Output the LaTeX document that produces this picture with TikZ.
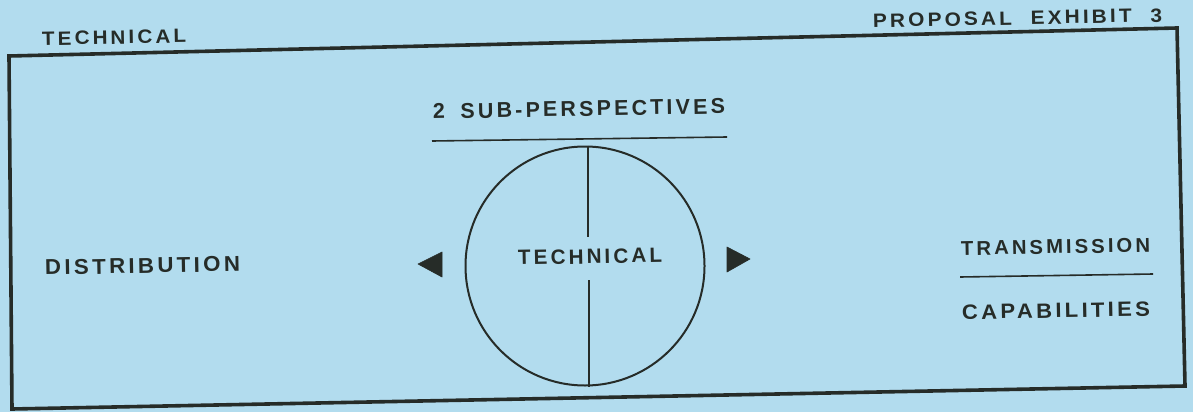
\documentclass[tikz,border=0pt]{standalone}
\usepackage{fontspec}
\setmainfont{Liberation Sans}[LetterSpace=15]
\definecolor{paper}{RGB}{178,220,238}
\definecolor{ink}{RGB}{38,44,40}
\newcommand{\fitlbl}[3]{\resizebox{#1pt}{#2pt}{\fontsize{20}{22}\selectfont\bfseries #3}}
\begin{document}
\begin{tikzpicture}[x=1pt,y=-1pt,
  lbl/.style={anchor=base west,inner sep=0pt,text=ink,rotate=1.1},
  frame/.style={draw=ink,line width=3.6pt,line join=miter},
  rule/.style={draw=ink,line width=1.6pt},
  tri/.style={fill=ink,draw=ink,line width=0.6pt,line join=round}]
\fill[paper] (0,0) rectangle (1193,412);
\useasboundingbox (0,0) rectangle (1193,412);
% frame
\coordinate (f1) at (9,56);
\coordinate (f2) at (1177,28);
\coordinate (f3) at (1185,386);
\coordinate (f4) at (12,409);
\draw[frame] (f1) -- (f2) -- (f3) -- (f4) -- cycle;
% headings
\node[lbl] (tl) at (42,45.5) {\fitlbl{144}{13.5}{TECHNICAL}};
\node[lbl] (pe) at (873,27.5) {\fitlbl{289}{13.5}{PROPOSAL\hspace{0.9em}EXHIBIT\hspace{0.9em}3}};
\node[lbl] (sub) at (433,119) {\fitlbl{292}{15}{2\hspace{0.3em} SUB-PERSPECTIVES}};
\coordinate (u1) at (432,141);
\coordinate (u2) at (727,137);
\draw[rule] (u1) -- (u2);
% circle
\node[draw=ink,line width=2pt,circle,minimum size=239pt,inner sep=0pt] (circ) at (585,266) {};
\node[lbl] (tc) at (518,265) {\fitlbl{144}{14.5}{TECHNICAL}};
\coordinate (v1) at (588,237);
\coordinate (v2) at (589,280);
\draw[rule] (circ.north -| v1) -- (v1);
\draw[rule] (v2) -- (circ.south -| v2);
% triangles
\coordinate (lt) at (418,264);
\coordinate (rt) at (750,259);
\draw[tri] (lt) -- (442,252) -- (442,277) -- cycle;
\draw[tri] (rt) -- (727,247) -- (727,272) -- cycle;
% side labels
\node[lbl] (dist) at (45,275) {\fitlbl{195}{15}{DISTRIBUTION}};
\node[lbl] (trans) at (961,255.5) {\fitlbl{189}{14}{TRANSMISSION}};
\coordinate (t1) at (960,277);
\coordinate (t2) at (1153,274);
\draw[rule] (t1) -- (t2);
\node[lbl] (cap) at (962,319.5) {\fitlbl{188}{14.5}{CAPABILITIES}};
\end{tikzpicture}
\end{document}
